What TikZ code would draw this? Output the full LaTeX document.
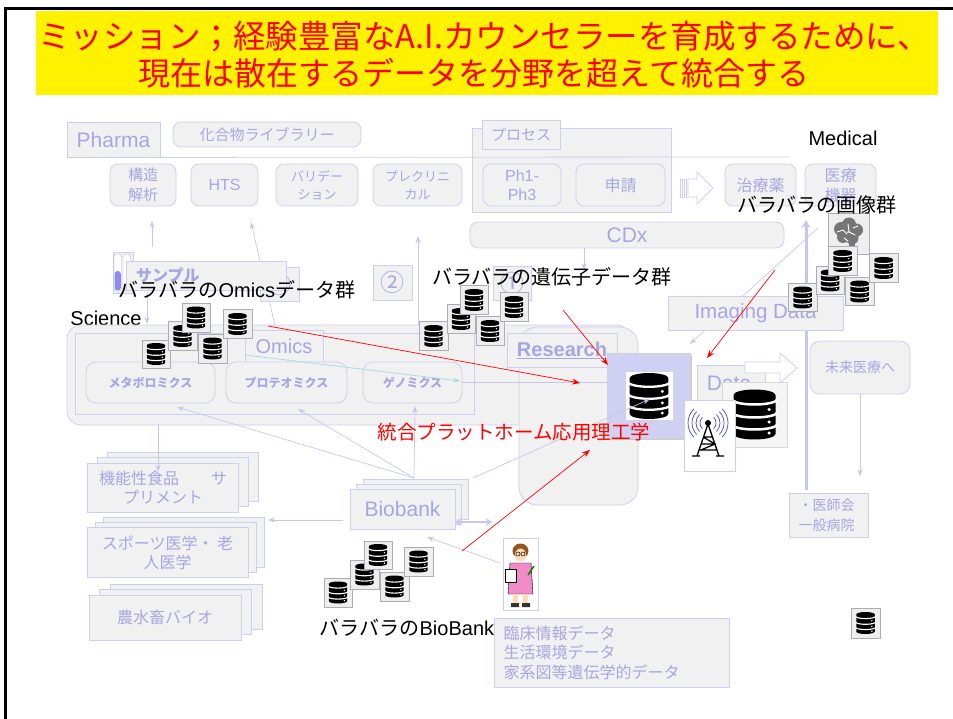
\documentclass[tikz,border=0pt]{standalone}
\usepackage{fontspec}
\setmainfont{Liberation Sans}
\newfontfamily\jpf{Noto Sans CJK JP}
\usepackage{tikz}
\usetikzlibrary{arrows.meta,shadows,positioning}

\definecolor{boxfill}{RGB}{241,241,241}
\definecolor{boxline}{RGB}{206,206,240}
\definecolor{lavtext}{RGB}{166,166,226}
\definecolor{linklav}{RGB}{198,198,238}
\definecolor{tealline}{RGB}{168,222,222}
\definecolor{hubfill}{RGB}{208,208,242}
\definecolor{tilefill}{RGB}{238,238,238}
\definecolor{tileline}{RGB}{172,172,182}
\definecolor{wavecol}{RGB}{70,70,200}
\definecolor{tubeblue}{RGB}{140,140,235}
\definecolor{skin}{RGB}{255,218,180}
\definecolor{coat}{RGB}{240,140,200}
\definecolor{hair}{RGB}{150,85,30}
\definecolor{braingray}{RGB}{118,118,118}

\newcommand\jfs[2]{\jpf\fontsize{#1}{#2}\selectfont}
\newcommand\lfs[2]{\fontsize{#1}{#2}\selectfont}

% database symbol, #1 = height in pt
\tikzset{
  pics/dbicon/.style={code={
    \begin{scope}[scale=#1, yscale=-1]
      \fill[black] (-0.42,0.39) -- (-0.42,-0.39)
        arc[start angle=180, end angle=360, x radius=0.42, y radius=0.11]
        -- (0.42,0.39)
        arc[start angle=0, end angle=180, x radius=0.42, y radius=0.11] -- cycle;
      \foreach \h in {0.31,0.05,-0.19}
        \draw[white, line width=0.05*#1pt]
          (-0.46,\h) arc[start angle=180, end angle=360, x radius=0.46, y radius=0.11];
      \foreach \h in {0.10,-0.15,-0.37}
        \fill[white] (0.29,\h) circle[radius=0.035];
    \end{scope}
  }}
}

\begin{document}
\begin{tikzpicture}[x=1pt, y=-1pt,
    lbox/.style={draw=boxline, fill=boxfill, text=lavtext, align=center, inner sep=0pt, line width=0.8pt},
    rlbox/.style={lbox, rounded corners=8pt},
    wh/.style 2 args={minimum width=#1pt, minimum height=#2pt},
    stackbox/.style 2 args={lbox, double copy shadow={shadow xshift=#1pt, shadow yshift=#2pt, fill=boxfill, draw=boxline, line width=0.8pt}},
    dbtile/.style={draw=tileline, fill=tilefill, minimum size=28.5pt, inner sep=0pt, line width=0.5pt},
    link/.style={draw=linklav, line width=0.7pt, -{Stealth[length=7pt, width=5pt]}},
    redarrow/.style={draw=red, line width=0.7pt, -{Stealth[length=8pt, width=6pt]}},
    darklbl/.style={text=black, inner sep=0pt}
]
\useasboundingbox (0,0) rectangle (953,719);

% Slide frame and mission banner
\draw[line width=2.5pt] (5.5,719) -- (5.5,8.5) -- (953,8.5);
\node[fill=yellow, wh={902}{84}, inner sep=0pt] (banner) at (487,53) {};
\node[darklbl, text=red, font=\jfs{32.5}{36}] (title1) at (484,36) {ミッション；経験豊富なA.I.カウンセラーを育成するために、};
\node[darklbl, text=red, font=\jfs{32}{36}] (title2) at (474,73) {現在は散在するデータを分野を超えて統合する};

% Pharma row
\node[lbox, wh={93}{35}, font=\lfs{21}{24}] (pharma) at (113.5,139.5) {Pharma};
\node[rlbox, wh={188}{25}, font=\jfs{15}{18}] (library) at (267,134.5) {化合物ライブラリー};
\node[lbox, wh={199}{84}] (process) at (571.5,170) {};
\node[lbox, wh={78}{29}, font=\jfs{15}{18}] (processtab) at (521,134.5) {プロセス};
\coordinate (pharmaend) at (789,157);
\draw[boxline, line width=0.8pt] (pharma.south east) -- (pharmaend);
\node[rlbox, wh={66}{42}, font=\jfs{15}{20}] (kozo) at (143,185) {構造\\解析};
\node[rlbox, wh={67}{42}, font=\lfs{16}{19}] (hts) at (224.5,185) {HTS};
\node[rlbox, wh={82}{42}, font=\jfs{13}{18}] (valid) at (317,185) {バリデー\\ション};
\node[rlbox, wh={89}{42}, font=\jfs{13}{18}] (preclin) at (417.5,185) {プレクリニ\\カル};
\node[rlbox, wh={78}{42}, font=\lfs{16}{19}] (phase) at (522,185) {Ph1-\\Ph3};
\node[rlbox, wh={89}{42}, font=\jfs{16}{20}] (filing) at (620.5,185) {申請};
\node[rlbox, wh={71}{42}, font=\jfs{16}{20}] (drug) at (760.5,185) {治療薬};
\node[rlbox, wh={71}{42}, font=\jfs{16}{20}] (device) at (840.5,185) {医療\\機器};
\draw[boxline, fill=white, line width=0.8pt] (680,179) rectangle (682.5,197) (684,179) rectangle (686.5,197);
\draw[boxline, fill=white, line width=0.8pt] (688,179) -- (697,179) -- (697,172) -- (713,188) -- (697,204) -- (697,197) -- (688,197) -- cycle;
\node[rlbox, wh={314}{26}, font=\lfs{21}{24}] (cdx) at (627,235) {CDx};
\node[darklbl, font=\lfs{20}{24}] (medical) at (843,138) {Medical};

% Upward links
\coordinate (sampletop) at (152,247);
\coordinate (kozoin) at (152,221);
\draw[link] (sampletop) -- (kozoin);
\coordinate (omicstop) at (276,330);
\coordinate (htsin) at (251,222);
\draw[link] (omicstop) -- (htsin);
\coordinate (genetop) at (418,326);
\coordinate (preclinin) at (418,236);
\draw[link] (genetop) -- (preclinin);
\coordinate (cdxtip) at (584,270);
\draw[link] (cdx.south -| cdxtip) -- (cdxtip);
\coordinate (samplefoot) at (147,292);
\coordinate (sciencein) at (147,324);
\draw[link] (samplefoot) -- (sciencein);

% Sample and numbered boxes
\node[draw=boxline, fill=boxfill, wh={20}{41}, inner sep=0pt] (tubes) at (123,272.5) {};
\draw[gray!55, fill=white, rounded corners=3pt] (114,254) rectangle (121.5,291);
\fill[tubeblue, rounded corners=3pt] (114.6,271) rectangle (120.9,290.4);
\draw[gray!55, fill=white, rounded corners=3pt] (123,254) rectangle (130.5,291);
\fill[pink!60, rounded corners=2pt] (123.6,286) rectangle (129.9,290.4);
\node[lbox, wh={39}{34}, font=\jfs{24}{26}] (third) at (279.5,284) {③};
\node[lbox, wh={160}{29}, text width=140pt, align=left, font=\jpf\bfseries\fontsize{16}{18}\selectfont] (sample) at (206,275.5) {サンプル};
\node[lbox, wh={39}{35}, font=\jfs{24}{26}] (second) at (392.5,282.5) {②};
\node[lbox, wh={38}{34}, font=\jfs{24}{26}] (first) at (512,283) {①};

% Science block
\node[darklbl, font=\lfs{20}{24}] (sciencelbl) at (106,318) {Science};
\node[lbox, rounded corners=14pt, wh={563}{100}] (science) at (348.5,375) {};
\node[lbox, wh={399}{81}] (scienceinner) at (274.5,373.5) {};
\node[lbox, wh={78}{32}, font=\lfs{20}{24}] (omics) at (284,346) {Omics};
\node[rlbox, rounded corners=10pt, wh={129}{41}, font=\jpf\bfseries\fontsize{12}{14}\selectfont] (metabo) at (150.5,382.5) {メタボロミクス};
\node[rlbox, rounded corners=10pt, wh={121}{41}, font=\jpf\bfseries\fontsize{12}{14}\selectfont] (proteo) at (286.5,382.5) {プロテオミクス};
\node[rlbox, rounded corners=10pt, wh={99}{41}, font=\jpf\bfseries\fontsize{12}{14}\selectfont] (geno) at (412.5,382.5) {ゲノミクス};
\coordinate (omicsfoot) at (245,355);
\coordinate (genoend) at (460,381);
\draw[tealline, line width=0.8pt, -{Stealth[length=7pt, width=5pt]}] (omicsfoot) -- (genoend);

% Research block
\node[lbox, rounded corners=18pt, wh={119}{178}] (research) at (578.5,416) {};
\node[lbox, wh={110}{34}, font=\bfseries\fontsize{20}{24}\selectfont] (researchtab) at (562,350) {\underline{Research}};

% Medical side
\coordinate (colfoot) at (806,490);
\coordinate (coltop) at (806,220);
\draw[linklav, line width=3pt, -{Stealth[length=8pt, width=9pt]}] (colfoot) -- (coltop);
\coordinate (medline) at (818,228);
\coordinate (imgin) at (690,344);
\draw[link] (medline) -- (imgin);
\node[lbox, wh={175}{34}, font=\lfs{20.5}{24}] (imaging) at (755.5,313) {Imaging Data};
\node[rlbox, rounded corners=10pt, wh={100}{53}, font=\jfs{14}{18}] (future) at (860,367.5) {未来医療へ};
\draw[link] (future.south) -- ++(0,82);
\node[lbox, wh={79}{44}, text width=60pt, align=left, font=\jfs{14}{20}] (clinics) at (828.5,515) {・医師会\\一般病院};

% Application fields
\node[stackbox={10}{5.5}, wh={151}{49}, font=\jfs{16}{19}] (food) at (163,487.5) {機能性食品　　サ\\プリメント};
\node[stackbox={8}{5}, wh={161}{50}, font=\jfs{16}{19}] (sports) at (167.5,552.5) {スポーツ医学・ 老\\人医学};
\node[stackbox={10.5}{5.5}, wh={152}{45}, font=\jfs{16}{20}] (agri) at (165,617.5) {農水畜バイオ};
\node[stackbox={6.5}{5}, wh={105}{40}, font=\lfs{21}{24}] (biobank) at (402.5,509) {Biobank};
\coordinate (scifoot) at (158,425);
\draw[link] (scifoot) -- ++(0,47);
\coordinate (bbwest) at (343,520);
\coordinate (sportsin) at (268,520);
\draw[link] (bbwest) -- (sportsin);
\coordinate (bbeast) at (455,522);
\coordinate (bbpartner) at (492,522);
\draw[linklav, line width=2.5pt, {Stealth[length=6pt, width=8pt]}-{Stealth[length=6pt, width=8pt]}] (bbeast) -- (bbpartner);
\coordinate (bbtop) at (414,478);
\coordinate (metaboin) at (177,407);
\coordinate (proteoin) at (298,409);
\coordinate (genoin) at (415,406);
\draw[link] (bbtop) -- (metaboin);
\draw[link] (bbtop) -- (proteoin);
\draw[link] (bbtop) -- (genoin);

% Integration hub
\node[fill=hubfill, draw=gray!35, wh={83}{85}, drop shadow={shadow xshift=2pt, shadow yshift=-2pt, opacity=0.4}] (hub) at (648.5,395.5) {};
\node[fill=white, wh={47}{48}, inner sep=0pt] (hubicon) at (649,396) {};
\pic at (hubicon) {dbicon=46};
\draw[linklav, line width=0.8pt] (geno.east) -- (geno.east -| hub.west);
\node[lbox, wh={68}{80}] (databox) at (731,405) {};
\node[darklbl, text=lavtext, font=\lfs{21}{24}] (datalbl) at (729,383) {Data};
\draw[boxline, fill=white, line width=0.8pt] (745,362) -- (780,362) -- (780,353) -- (797,368) -- (780,383) -- (780,373) -- (745,373) -- cycle;
\node[draw=gray!30, fill=tilefill!60, wh={65}{65}, inner sep=0pt] (bigdb) at (754.5,414.5) {};
\pic at (bigdb) {dbicon=50};
\node[draw=boxline, fill=white, wh={51}{71}, inner sep=0pt] (antenna) at (709.5,435.5) {};
\fill (708,423) circle[radius=3];
\draw[line width=1.3pt] (708,424) -- (697,456) (708,424) -- (719,456)
  (692,456) -- (700,456) (716,456) -- (724,456)
  (703,437) -- (713,437) (701,444) -- (715,444) (699,450) -- (717,450)
  (703,437) -- (715,444) -- (701,450);
\foreach \r in {8,12,16,20} {
  \draw[wavecol, line width=0.7pt] (708,423) ++(45:\r) arc[start angle=45, end angle=-45, radius=\r];
  \draw[wavecol, line width=0.7pt] (708,423) ++(135:\r) arc[start angle=135, end angle=225, radius=\r];
}

% Scattered data tiles
\node[dbtile, minimum size=41pt] (braintile) at (848.5,234) {};
\fill[braingray] (841,229) circle[radius=7] (849,224.5) circle[radius=7] (856.5,230) circle[radius=6.5]
  (843,237) circle[radius=6] (852,238) circle[radius=6.5];
\fill[braingray] (849,240) rectangle (855,249);
\draw[white, line width=0.9pt, line cap=round] (837,232) -- (843,230) -- (847,234)
  (848,224) -- (849,232) -- (855,235) (853,228) -- (858,226) (844,238) -- (848,241);
\foreach \nm/\px/\py in {om1/156/354, om2/182.5/336, om3/196/317.5, om4/212.5/348.5, om5/237.5/324,
    ge1/433.5/336, ge2/461/319, ge3/474/300, ge4/490/331, ge5/514/307,
    im1/802.5/297.5, im2/830/280.5, im3/842.5/261, im4/859.5/291.5, im5/883.5/268,
    bb1/338/592.5, bb2/364.5/574.5, bb3/378/555, bb4/394.5/586.5, bb5/418.5/561.5} {
  \node[dbtile] (\nm) at (\px,\py) {};
  \pic at (\nm) {dbicon=22};
}

% Clinician and clinical records
\node[draw=boxline, fill=white, wh={35}{72}, inner sep=0pt] (doctor) at (520.5,574) {};
\fill[hair] (520.5,551) ellipse[x radius=8, y radius=7.5];
\fill[skin] (520.5,555) ellipse[x radius=5.5, y radius=6.5];
\draw[line width=0.5pt] (518,554) circle[radius=2] (523,554) circle[radius=2];
\fill[coat, draw=black, line width=0.4pt] (510,563) -- (531,563) -- (533,594) -- (508,594) -- cycle;
\fill[skin] (513,594) rectangle (518,604) (523,594) rectangle (528,604);
\fill[black!80] (511,603) rectangle (519,607) (522,603) rectangle (530,607);
\fill[white, draw=black, line width=0.4pt] (505,569) rectangle (516,582);
\draw[green!50!black, line width=1.5pt] (528,575) -- (534,566);
\coordinate (doctorhand) at (500,563);
\coordinate (bbfoot) at (427,537);
\draw[link] (doctorhand) -- (bbfoot);
\coordinate (bbrise) at (473,478);
\coordinate (hubcore) at (650,399);
\draw[link] (bbrise) -- (hubcore);
\node[lbox, wh={235}{69}, text width=216pt, align=left, font=\jfs{16}{19.5}] (records) at (611.5,652.5) {臨床情報データ\\生活環境データ\\家系図等遺伝学的データ};
\node[dbtile, minimum size=29.5pt] (loose) at (865.5,623) {};
\pic at (loose) {dbicon=22};

% Group labels
\node[darklbl, font=\lfs{20}{24}] (omicslbl) at (237,290) {{\jpf バラバラの}Omics{\jpf データ群}};
\node[darklbl, font=\jfs{20}{24}] (genelbl) at (552,277) {バラバラの遺伝子データ群};
\node[darklbl, font=\jfs{20}{24}] (imagelbl) at (817,205) {バラバラの画像群};
\node[darklbl, font=\lfs{20}{24}] (bblbl) at (407,628) {{\jpf バラバラの}BioBank};

% Integration arrows
\node[darklbl, text=red, font=\jfs{19.5}{24}] (platform) at (514,432) {統合プラットホーム応用理工学};
\coordinate (omicsred) at (268,326);
\coordinate (hubleft) at (580,383);
\coordinate (genered) at (563,310);
\coordinate (hubcorner) at (608,365);
\coordinate (imagered) at (775,270);
\coordinate (dataside) at (707,358);
\coordinate (bbred) at (462,551);
\coordinate (platformfoot) at (590,450);
\draw[redarrow] (omicsred) -- (hubleft);
\draw[redarrow] (genered) -- (hubcorner);
\draw[redarrow] (imagered) -- (dataside);
\draw[redarrow] (bbred) -- (platformfoot);

\end{tikzpicture}
\end{document}
